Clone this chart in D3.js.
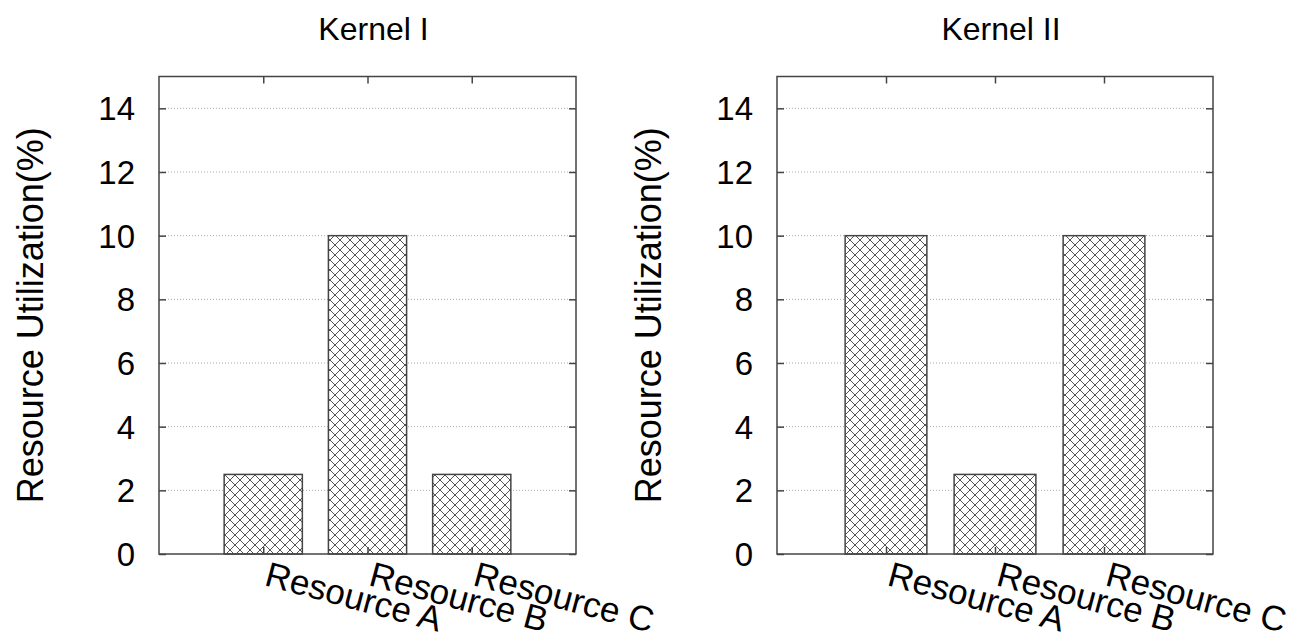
<!DOCTYPE html>
<html>
<head>
<meta charset="utf-8">
<script src="https://cdn.jsdelivr.net/npm/d3@7"></script>
<style>
  html, body { margin: 0; padding: 0; background: #fff; }
  svg { display: block; }
  text { font-family: "Liberation Sans", Arial, Helvetica, sans-serif; fill: #000; }
</style>
</head>
<body>
<svg id="chart" width="1307" height="637"></svg>
<script>
const categories = ["Resource A", "Resource B", "Resource C"];
const kernelITitle = "Kernel I";
const kernelIITitle = "Kernel II";
const kernelIValues = [2.5, 10, 2.5];
const kernelIIValues = [10, 2.5, 10];
const yTickValues = [0, 2, 4, 6, 8, 10, 12, 14];
const yLabel = "Resource Utilization(%)";

const svg = d3.select("#chart");
const defs = svg.append("defs");
const pat = defs.append("pattern")
  .attr("id", "hatch").attr("patternUnits", "userSpaceOnUse")
  .attr("width", 10).attr("height", 10);
pat.append("rect").attr("width", 10).attr("height", 10).attr("fill", "#fff");
pat.append("path")
  .attr("d", "M0,0 L10,10 M10,0 L0,10 M-1,9 L1,11 M9,-1 L11,1 M-1,1 L1,-1 M9,11 L11,9")
  .attr("stroke", "#555").attr("stroke-width", 1).attr("fill", "none");

const panels = [
  { title: kernelITitle, values: kernelIValues, left: 159, right: 576 },
  { title: kernelIITitle, values: kernelIIValues, left: 777, right: 1213 }
];
const plotTop = 76.5, plotBottom = 554;
const axisColor = "#444";

panels.forEach(p => {
  const g = svg.append("g");
  const x = d3.scaleLinear().domain([0, categories.length + 1]).range([p.left, p.right]);
  const y = d3.scaleLinear().domain([0, 15]).range([plotBottom, plotTop]);
  const unit = x(1) - x(0);
  const barW = unit * 0.75;

  // grid lines
  g.selectAll(".grid").data(yTickValues.filter(v => v > 0)).enter().append("line")
    .attr("x1", p.left).attr("x2", p.right)
    .attr("y1", d => y(d)).attr("y2", d => y(d))
    .attr("stroke", "#aaa").attr("stroke-width", 1).attr("stroke-dasharray", "1,2");

  // bars
  g.selectAll(".bar").data(p.values).enter().append("rect")
    .attr("x", (d, i) => x(i + 1) - barW / 2)
    .attr("width", barW)
    .attr("y", d => y(d))
    .attr("height", d => y(0) - y(d))
    .attr("fill", "url(#hatch)")
    .attr("stroke", axisColor).attr("stroke-width", 1.5);

  // frame
  g.append("rect").attr("x", p.left).attr("y", plotTop)
    .attr("width", p.right - p.left).attr("height", plotBottom - plotTop)
    .attr("fill", "none").attr("stroke", axisColor).attr("stroke-width", 1.5);

  // y ticks (left and mirrored right), inward
  const yAxisL = d3.axisRight(y).tickValues(yTickValues).tickSize(7).tickFormat("");
  const gl = g.append("g").attr("transform", `translate(${p.left},0)`).call(yAxisL);
  const yAxisR = d3.axisLeft(y).tickValues(yTickValues).tickSize(7).tickFormat("");
  const gr = g.append("g").attr("transform", `translate(${p.right},0)`).call(yAxisR);
  [gl, gr].forEach(a => {
    a.select(".domain").remove();
    a.selectAll("line").attr("stroke", axisColor).attr("stroke-width", 1.5);
  });

  // y tick labels
  g.selectAll(".ylab").data(yTickValues).enter().append("text")
    .attr("x", p.left - 24).attr("y", d => y(d))
    .attr("dy", "0.36em").attr("text-anchor", "end")
    .attr("font-size", 33).text(d => d);

  // x ticks top & bottom inward
  const xAxisT = d3.axisBottom(x).tickValues(d3.range(1, categories.length + 1)).tickSize(7).tickFormat("");
  const gt = g.append("g").attr("transform", `translate(0,${plotTop})`).call(xAxisT);
  const xAxisB = d3.axisTop(x).tickValues(d3.range(1, categories.length + 1)).tickSize(7).tickFormat("");
  const gb = g.append("g").attr("transform", `translate(0,${plotBottom})`).call(xAxisB);
  [gt, gb].forEach(a => {
    a.select(".domain").remove();
    a.selectAll("line").attr("stroke", axisColor).attr("stroke-width", 1.5);
  });

  // rotated category labels
  g.selectAll(".xlab").data(categories).enter().append("text")
    .attr("transform", (d, i) => `translate(${x(i + 1)},${plotBottom + 31}) rotate(15)`)
    .attr("text-anchor", "start").attr("font-size", 35).text(d => d);

  // title
  g.append("text").attr("x", (p.left + p.right) / 2 + 6).attr("y", 40)
    .attr("text-anchor", "middle").attr("font-size", 32).text(p.title);

  // y label
  g.append("text")
    .attr("transform", `translate(${p.left - 116},${(plotTop + plotBottom) / 2}) rotate(-90)`)
    .attr("text-anchor", "middle").attr("font-size", 36).text(yLabel);
});
</script>
</body>
</html>
